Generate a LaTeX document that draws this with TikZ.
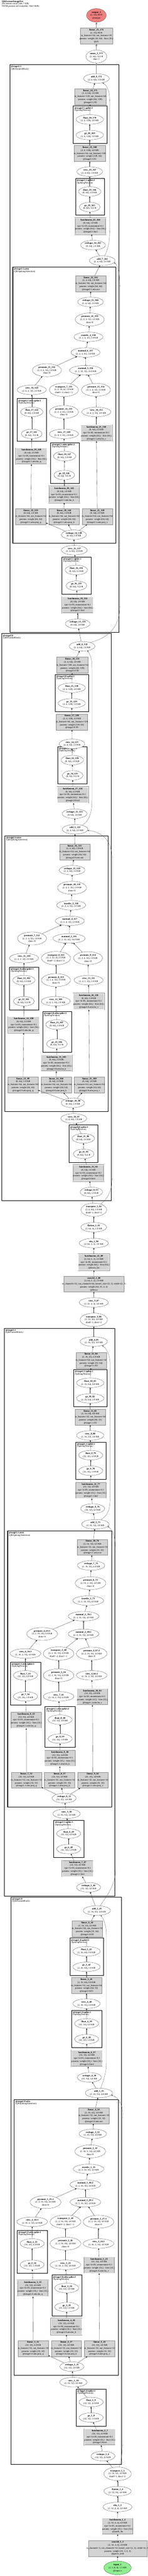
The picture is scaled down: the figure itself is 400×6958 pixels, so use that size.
\documentclass[tikz,border=0pt]{standalone}
\usepackage{fontspec}
\setmainfont{Liberation Serif}
\usetikzlibrary{arrows,shapes.geometric}

\definecolor{modgray}{HTML}{D3D3D3}
\definecolor{outred}{HTML}{F08080}
\definecolor{ingreen}{HTML}{90EE90}

\newcommand{\modtxt}[1]{\makebox[0pt]{\begin{tabular}{@{}c@{}}#1\end{tabular}}}

\begin{document}
\begin{tikzpicture}[x=1pt,y=-1pt,>=stealth',node distance=90pt,
  every node/.style={font=\fontsize{6.4}{8}\selectfont},
  op/.style={ellipse,draw=black!80,line width=0.4pt,fill=white,align=center,inner xsep=2pt,inner ysep=2.2pt},
  mod/.style={rectangle,draw=black!45,line width=0.5pt,fill=modgray,minimum width=82pt,minimum height=43pt,inner sep=0pt},
  ffmod/.style={mod,minimum width=85pt},
  norm/.style={mod,double=white,double distance=1.2pt,minimum width=84pt,minimum height=44pt},
  block/.style={draw=black,line width=1.6pt,inner sep=0pt,anchor=north west},
  spike/.style={block,line width=1.3pt},
  clabel/.style={anchor=north west,align=left,inner sep=3.5pt,font=\fontsize{6.4}{6}\selectfont},
  flow/.style={->,draw=black!80,line width=0.45pt},
  trunk/.style={->,draw=black!45,line width=1.1pt},
  resid/.style={->,draw=black!65,line width=0.45pt},
  elabel/.style={font=\fontsize{4}{4}\selectfont,inner sep=0.4pt}]

\useasboundingbox (0,0) rectangle (400,6958);

\node[block,minimum width=295pt,minimum height=1533pt,label={[clabel]north west:{\textbf{@stage2.1}\\(QKFormerBlock)}}] (stage21) at (26,174) {};
\node[spike,minimum width=91pt,minimum height=101.5pt,label={[clabel]north west:{\textbf{@stage2.1.spike:3}\\(SpikingNeuron)}}] (stage21_spike3) at (198,285.5) {};
\node[spike,minimum width=79pt,minimum height=99pt,label={[clabel]north west:{\textbf{@stage2.1.spike:2}\\(SpikingNeuron)}}] (stage21_spike2) at (204,481.5) {};
\node[block,minimum width=279pt,minimum height=746pt,label={[clabel]north west:{\textbf{@stage2.1.attn}\\(QKSpikingAttention)}}] (stage21_attn) at (34,721) {};
\node[spike,minimum width=79pt,minimum height=115.5pt,label={[clabel]north west:{\textbf{@stage2.1.attn.spike:1}\\(SpikingNeuron)}}] (stage21_attn_spike1) at (46,1076) {};
\node[spike,minimum width=77.6pt,minimum height=111pt,label={[clabel]north west:{\textbf{@stage2.1.attn.spike:2}\\(SpikingNeuron)}}] (stage21_attn_spike2) at (136.7,1195) {};
\node[spike,minimum width=78.7pt,minimum height=100.7pt,label={[clabel]north west:{\textbf{@stage2.1.spike:1}\\(SpikingNeuron)}}] (stage21_spike1) at (167.3,1503.7) {};

\node[block,minimum width=295.7pt,minimum height=1532pt,label={[clabel]north west:{\textbf{@stage2.0}\\(QKFormerBlock)}}] (stage20) at (4.3,1710.7) {};
\node[spike,minimum width=91pt,minimum height=101pt,label={[clabel]north west:{\textbf{@stage2.0.spike:3}\\(SpikingNeuron)}}] (stage20_spike3) at (148.7,1821) {};
\node[spike,minimum width=78.7pt,minimum height=101pt,label={[clabel]north west:{\textbf{@stage2.0.spike:2}\\(SpikingNeuron)}}] (stage20_spike2) at (156,2016) {};
\node[block,minimum width=278.7pt,minimum height=744pt,label={[clabel]north west:{\textbf{@stage2.0.attn}\\(QKSpikingAttention)}}] (stage20_attn) at (13,2257) {};
\node[spike,minimum width=78pt,minimum height=115.5pt,label={[clabel]north west:{\textbf{@stage2.0.attn.spike:1}\\(SpikingNeuron)}}] (stage20_attn_spike1) at (25.7,2611.5) {};
\node[spike,minimum width=78.7pt,minimum height=110.9pt,label={[clabel]north west:{\textbf{@stage2.0.attn.spike:2}\\(SpikingNeuron)}}] (stage20_attn_spike2) at (115,2731) {};
\node[spike,minimum width=78.7pt,minimum height=100.8pt,label={[clabel]north west:{\textbf{@stage2.0.spike:1}\\(SpikingNeuron)}}] (stage20_spike1) at (186.3,3038.5) {};

\node[block,minimum width=298.4pt,minimum height=1533pt,label={[clabel]north west:{\textbf{@stage1.1}\\(QKFormerBlock)}}] (stage11) at (11.3,3587.4) {};
\node[spike,minimum width=90.7pt,minimum height=100.4pt,label={[clabel]north west:{\textbf{@stage1.1.spike:3}\\(SpikingNeuron)}}] (stage11_spike3) at (199,3698.9) {};
\node[spike,minimum width=81.6pt,minimum height=100.4pt,label={[clabel]north west:{\textbf{@stage1.1.spike:2}\\(SpikingNeuron)}}] (stage11_spike2) at (204.7,3894.4) {};
\node[block,minimum width=281.7pt,minimum height=745.6pt,label={[clabel]north west:{\textbf{@stage1.1.attn}\\(QKSpikingAttention)}}] (stage11_attn) at (20,4134.4) {};
\node[spike,minimum width=82pt,minimum height=115.9pt,label={[clabel]north west:{\textbf{@stage1.1.attn.spike:1}\\(SpikingNeuron)}}] (stage11_attn_spike1) at (27.7,4488.9) {};
\node[spike,minimum width=81.6pt,minimum height=109.6pt,label={[clabel]north west:{\textbf{@stage1.1.attn.spike:2}\\(SpikingNeuron)}}] (stage11_attn_spike2) at (121.7,4609.3) {};
\node[spike,minimum width=82pt,minimum height=100.7pt,label={[clabel]north west:{\textbf{@stage1.1.spike:1}\\(SpikingNeuron)}}] (stage11_spike1) at (145.3,4916.3) {};

\node[block,minimum width=299pt,minimum height=1532.7pt,label={[clabel]north west:{\textbf{@stage1.0}\\(QKFormerBlock)}}] (stage10) at (29.3,5123.3) {};
\node[spike,minimum width=90.6pt,minimum height=100.8pt,label={[clabel]north west:{\textbf{@stage1.0.spike:3}\\(SpikingNeuron)}}] (stage10_spike3) at (188.7,5234) {};
\node[spike,minimum width=82pt,minimum height=101.1pt,label={[clabel]north west:{\textbf{@stage1.0.spike:2}\\(SpikingNeuron)}}] (stage10_spike2) at (193.7,5429.3) {};
\node[block,minimum width=282pt,minimum height=744.8pt,label={[clabel]north west:{\textbf{@stage1.0.attn}\\(QKSpikingAttention)}}] (stage10_attn) at (37.7,5670.4) {};
\node[spike,minimum width=81.7pt,minimum height=116.3pt,label={[clabel]north west:{\textbf{@stage1.0.attn.spike:1}\\(SpikingNeuron)}}] (stage10_attn_spike1) at (46,6023.7) {};
\node[spike,minimum width=81.7pt,minimum height=110.4pt,label={[clabel]north west:{\textbf{@stage1.0.attn.spike:2}\\(SpikingNeuron)}}] (stage10_attn_spike2) at (140,6144.4) {};
\node[spike,minimum width=81.6pt,minimum height=100.8pt,label={[clabel]north west:{\textbf{@stage1.0.spike:1}\\(SpikingNeuron)}}] (stage10_spike1) at (205.7,6452.2) {};

\node[anchor=north west,align=left,inner sep=0pt,font=\fontsize{6.4}{6}\selectfont] (title) at (5,2) {\textbf{QKFormerImageNet}\\264 tensors total (546.7 KB)\\93258 params (all trainable, 364.3 KB)};

\node[op,fill=outred,minimum width=53pt] (output_1) at (261,41.5) {\textbf{output\_1}\\(2, 10), 80 B\\@output};
\node[mod,minimum width=88pt] (linear_25_174) at (261,97) {\modtxt{\textbf{linear\_25\_174}\\(2, 10), 80 B\\in\_features=64, out\_features=10\\params: weight (10, 64) · bias (10,)\\@cls}};
\node[op] (mean_1_173) at (261,152.6) {\textbf{mean\_1\_173}\\(2, 64), 512 B\\dim=1};

\node[op] (add_8_172) at (261,212) {\textbf{add\_8\_172}\\(2, 4, 64), 2.0 KB};
\node[ffmod] (linear_24_171) at (244.5,261) {\modtxt{\textbf{linear\_24\_171}\\(2, 4, 64), 2.0 KB\\in\_features=128, out\_features=64\\params: weight (64, 128)\\@stage2.1.ff2}};
\node[op] (float_20_170) at (243,322.6) {\textbf{float\_20\_170}\\(2, 4, 128), 4.0 KB};
\node[op] (ge_20_169) at (243,364.8) {\textbf{ge\_20\_169}\\(2, 4, 128), 1.0 KB};
\node[ffmod] (linear_23_168) at (243,414.7) {\modtxt{\textbf{linear\_23\_168}\\(2, 4, 128), 4.0 KB\\in\_features=64, out\_features=128\\params: weight (128, 64)\\@stage2.1.ff1}};
\node[op] (view_19_167) at (243,463.7) {\textbf{view\_19\_167}\\(2, 4, 64), 2.0 KB};
\node[op] (float_19_166) at (243,517.4) {\textbf{float\_19\_166}\\(8, 64), 2.0 KB};
\node[op] (ge_19_165) at (243,559.3) {\textbf{ge\_19\_165}\\(8, 64), 512 B};
\node[norm] (batchnorm_22_164) at (245,611) {\modtxt{\textbf{batchnorm\_22\_164}\\(8, 64), 2.0 KB\\eps=1e-05, momentum=0.1\\params: weight (64,) · bias (64,)\\@stage2.1.bn2}};
\node[op] (reshape_16_163) at (252,662) {\textbf{reshape\_16\_163}\\(8, 64), 2.0 KB};
\node[op] (add_7_162) at (277,704) {\textbf{add\_7\_162}\\(2, 4, 64), 2.0 KB};
\node[mod] (linear_22_161) at (246,766) {\modtxt{\textbf{linear\_22\_161}\\(2, 4, 64), 2.0 KB\\in\_features=64, out\_features=64\\params: weight (64, 64)\\@stage2.1.attn.out}};
\node[op] (reshape_15_160) at (245,815.5) {\textbf{reshape\_15\_160}\\(2, 4, 64), 2.0 KB};
\node[op] (permute_14_159) at (243,863) {\textbf{permute\_14\_159}\\(2, 4, 2, 32), 2.0 KB\\dims=0};
\node[op] (truediv_4_158) at (239.5,910) {\textbf{truediv\_4\_158}\\(2, 2, 4, 32), 2.0 KB};
\node[op] (matmul_6_157) at (231.5,952) {\textbf{matmul\_6\_157}\\(2, 2, 4, 32), 2.0 KB};
\node[op] (permute_11_152) at (127,1000) {\textbf{permute\_11\_152}\\(2, 2, 4, 32), 2.0 KB\\dims=0};
\node[op] (matmul_5_156) at (232,1000) {\textbf{matmul\_5\_156}\\(2, 2, 32, 32), 16.0 KB};
\node[op] (view_16_143) at (86,1053) {\textbf{view\_16\_143}\\(2, 4, 2, 32), 2.0 KB};
\node[op] (transpose_7_155) at (173,1053) {\textbf{transpose\_7\_155}\\(2, 2, 32, 4), 2.0 KB\\dim0=-2, dim1=-1};
\node[op] (permute_13_154) at (260,1053) {\textbf{permute\_13\_154}\\(2, 2, 4, 32), 2.0 KB\\dims=0};
\node[op] (float_17_142) at (86,1112.6) {\textbf{float\_17\_142}\\(8, 64), 2.0 KB};
\node[op] (permute_12_153) at (173,1112.6) {\textbf{permute\_12\_153}\\(2, 2, 4, 32), 2.0 KB\\dims=0};
\node[op] (view_18_151) at (261,1112.6) {\textbf{view\_18\_151}\\(2, 4, 2, 32), 2.0 KB};
\node[op] (ge_17_141) at (86,1172) {\textbf{ge\_17\_141}\\(8, 64), 512 B};
\node[op] (view_17_148) at (173,1172) {\textbf{view\_17\_148}\\(2, 4, 2, 32), 2.0 KB};
\node[norm] (batchnorm_21_150) at (261,1169.5) {\modtxt{\textbf{batchnorm\_21\_150}\\(8, 64), 2.0 KB\\eps=1e-05, momentum=0.1\\params: weight (64,) · bias (64,)\\@stage2.1.attn.bn\_v}};
\node[norm] (batchnorm_19_140) at (85.3,1232) {\modtxt{\textbf{batchnorm\_19\_140}\\(8, 64), 2.0 KB\\eps=1e-05, momentum=0.1\\params: weight (64,) · bias (64,)\\@stage2.1.attn.bn\_q}};
\node[op] (float_18_147) at (175,1232) {\textbf{float\_18\_147}\\(8, 64), 2.0 KB};
\node[op] (ge_18_146) at (174,1283) {\textbf{ge\_18\_146}\\(8, 64), 512 B};
\node[norm] (batchnorm_20_145) at (174,1336) {\modtxt{\textbf{batchnorm\_20\_145}\\(8, 64), 2.0 KB\\eps=1e-05, momentum=0.1\\params: weight (64,) · bias (64,)\\@stage2.1.attn.bn\_k}};
\node[mod] (linear_19_139) at (83.5,1395) {\modtxt{\textbf{linear\_19\_139}\\(8, 64), 2.0 KB\\in\_features=64, out\_features=64\\params: weight (64, 64)\\@stage2.1.attn.proj\_q}};
\node[mod] (linear_20_144) [right of=linear_19_139] {\modtxt{\textbf{linear\_20\_144}\\(8, 64), 2.0 KB\\in\_features=64, out\_features=64\\params: weight (64, 64)\\@stage2.1.attn.proj\_k}};
\node[mod] (linear_21_149) [right of=linear_20_144] {\modtxt{\textbf{linear\_21\_149}\\(8, 64), 2.0 KB\\in\_features=64, out\_features=64\\params: weight (64, 64)\\@stage2.1.attn.proj\_v}};
\node[op] (reshape_14_138) at (200,1444.4) {\textbf{reshape\_14\_138}\\(8, 64), 2.0 KB};
\node[op] (view_15_137) at (201.3,1486) {\textbf{view\_15\_137}\\(2, 4, 64), 2.0 KB};
\node[op] (float_16_136) at (206.7,1539.6) {\textbf{float\_16\_136}\\(8, 64), 2.0 KB};
\node[op] (ge_16_135) at (207,1582) {\textbf{ge\_16\_135}\\(8, 64), 512 B};
\node[norm] (batchnorm_18_134) at (210.3,1634) {\modtxt{\textbf{batchnorm\_18\_134}\\(8, 64), 2.0 KB\\eps=1e-05, momentum=0.1\\params: weight (64,) · bias (64,)\\@stage2.1.bn1}};
\node[op] (reshape_13_133) at (210.3,1684.8) {\textbf{reshape\_13\_133}\\(8, 64), 2.0 KB};

\node[op] (add_6_132) at (222.3,1745.6) {\textbf{add\_6\_132}\\(2, 4, 64), 2.0 KB};
\node[ffmod] (linear_18_131) at (196,1796.7) {\modtxt{\textbf{linear\_18\_131}\\(2, 4, 64), 2.0 KB\\in\_features=128, out\_features=64\\params: weight (64, 128)\\@stage2.0.ff2}};
\node[op] (float_15_130) at (194.3,1857.8) {\textbf{float\_15\_130}\\(2, 4, 128), 4.0 KB};
\node[op] (ge_15_129) at (194.3,1899.6) {\textbf{ge\_15\_129}\\(2, 4, 128), 1.0 KB};
\node[ffmod] (linear_17_128) at (194.8,1950) {\modtxt{\textbf{linear\_17\_128}\\(2, 4, 128), 4.0 KB\\in\_features=64, out\_features=128\\params: weight (128, 64)\\@stage2.0.ff1}};
\node[op] (view_14_127) at (195,2009.3) {\textbf{view\_14\_127}\\(2, 4, 64), 2.0 KB};
\node[op] (float_14_126) at (195.7,2053) {\textbf{float\_14\_126}\\(8, 64), 2.0 KB};
\node[op] (ge_14_125) at (196.7,2094.4) {\textbf{ge\_14\_125}\\(8, 64), 512 B};
\node[norm] (batchnorm_17_124) at (197,2147) {\modtxt{\textbf{batchnorm\_17\_124}\\(8, 64), 2.0 KB\\eps=1e-05, momentum=0.1\\params: weight (64,) · bias (64,)\\@stage2.0.bn2}};
\node[op] (reshape_12_123) at (202,2197.8) {\textbf{reshape\_12\_123}\\(8, 64), 2.0 KB};
\node[op] (add_5_122) at (203.3,2240) {\textbf{add\_5\_122}\\(2, 4, 64), 2.0 KB};
\node[mod] (linear_16_121) at (202.3,2301) {\modtxt{\textbf{linear\_16\_121}\\(2, 4, 64), 2.0 KB\\in\_features=64, out\_features=64\\params: weight (64, 64)\\@stage2.0.attn.out}};
\node[op] (reshape_11_120) at (195.3,2350.4) {\textbf{reshape\_11\_120}\\(2, 4, 64), 2.0 KB};
\node[op] (permute_10_119) at (195,2398) {\textbf{permute\_10\_119}\\(2, 4, 2, 32), 2.0 KB\\dims=0};
\node[op] (truediv_3_118) at (192.7,2445) {\textbf{truediv\_3\_118}\\(2, 2, 4, 32), 2.0 KB};
\node[op] (matmul_4_117) at (189,2487.4) {\textbf{matmul\_4\_117}\\(2, 2, 4, 32), 2.0 KB};
\node[op] (permute_7_112) at (86.7,2534.8) {\textbf{permute\_7\_112}\\(2, 2, 4, 32), 2.0 KB\\dims=0};
\node[op] (matmul_3_116) at (187,2534.8) {\textbf{matmul\_3\_116}\\(2, 2, 32, 32), 16.0 KB};
\node[op] (view_11_103) at (65,2588) {\textbf{view\_11\_103}\\(2, 4, 2, 32), 2.0 KB};
\node[op] (transpose_6_115) at (151.7,2588) {\textbf{transpose\_6\_115}\\(2, 2, 32, 4), 2.0 KB\\dim0=-2, dim1=-1};
\node[op] (permute_9_114) at (238.3,2588) {\textbf{permute\_9\_114}\\(2, 2, 4, 32), 2.0 KB\\dims=0};
\node[op] (float_12_102) at (64.7,2647.4) {\textbf{float\_12\_102}\\(8, 64), 2.0 KB};
\node[op] (permute_8_113) at (151.7,2647.4) {\textbf{permute\_8\_113}\\(2, 2, 4, 32), 2.0 KB\\dims=0};
\node[op] (view_13_111) at (239.7,2647.4) {\textbf{view\_13\_111}\\(2, 4, 2, 32), 2.0 KB};
\node[op] (ge_12_101) at (64.7,2704.4) {\textbf{ge\_12\_101}\\(8, 64), 512 B};
\node[op] (view_12_108) at (151,2704.4) {\textbf{view\_12\_108}\\(2, 4, 2, 32), 2.0 KB};
\node[norm] (batchnorm_16_110) at (240.3,2705) {\modtxt{\textbf{batchnorm\_16\_110}\\(8, 64), 2.0 KB\\eps=1e-05, momentum=0.1\\params: weight (64,) · bias (64,)\\@stage2.0.attn.bn\_v}};
\node[norm] (batchnorm_14_100) at (64.3,2768) {\modtxt{\textbf{batchnorm\_14\_100}\\(8, 64), 2.0 KB\\eps=1e-05, momentum=0.1\\params: weight (64,) · bias (64,)\\@stage2.0.attn.bn\_q}};
\node[op] (float_13_107) at (154,2767.4) {\textbf{float\_13\_107}\\(8, 64), 2.0 KB};
\node[op] (ge_13_106) at (154,2819.3) {\textbf{ge\_13\_106}\\(8, 64), 512 B};
\node[norm] (batchnorm_15_105) at (152.7,2871.5) {\modtxt{\textbf{batchnorm\_15\_105}\\(8, 64), 2.0 KB\\eps=1e-05, momentum=0.1\\params: weight (64,) · bias (64,)\\@stage2.0.attn.bn\_k}};
\node[mod] (linear_13_99) at (62.3,2929.8) {\modtxt{\textbf{linear\_13\_99}\\(8, 64), 2.0 KB\\in\_features=64, out\_features=64\\params: weight (64, 64)\\@stage2.0.attn.proj\_q}};
\node[mod] (linear_14_104) [right of=linear_13_99] {\modtxt{\textbf{linear\_14\_104}\\(8, 64), 2.0 KB\\in\_features=64, out\_features=64\\params: weight (64, 64)\\@stage2.0.attn.proj\_k}};
\node[mod] (linear_15_109) [right of=linear_14_104] {\modtxt{\textbf{linear\_15\_109}\\(8, 64), 2.0 KB\\in\_features=64, out\_features=64\\params: weight (64, 64)\\@stage2.0.attn.proj\_v}};
\node[op] (reshape_10_98) at (197.3,2979) {\textbf{reshape\_10\_98}\\(8, 64), 2.0 KB};
\node[op] (view_10_97) at (199.7,3021) {\textbf{view\_10\_97}\\(2, 4, 64), 2.0 KB};
\node[op] (float_11_96) at (225.7,3074.8) {\textbf{float\_11\_96}\\(8, 64), 2.0 KB};
\node[op] (ge_11_95) at (226.7,3116.7) {\textbf{ge\_11\_95}\\(8, 64), 512 B};
\node[norm] (batchnorm_13_94) at (239.5,3168.7) {\modtxt{\textbf{batchnorm\_13\_94}\\(8, 64), 2.0 KB\\eps=1e-05, momentum=0.1\\params: weight (64,) · bias (64,)\\@stage2.0.bn1}};
\node[op] (reshape_9_93) at (247.3,3219.6) {\textbf{reshape\_9\_93}\\(8, 64), 2.0 KB};

\node[op] (transpose_5_92) at (254,3267.8) {\textbf{transpose\_5\_92}\\(2, 4, 64), 2.0 KB\\dim0=1, dim1=2};
\node[op] (flatten_2_91) at (254,3314.8) {\textbf{flatten\_2\_91}\\(2, 64, 4), 2.0 KB};
\node[op] (silu_2_90) at (254,3357.8) {\textbf{silu\_2\_90}\\(2, 64, 2, 2), 2.0 KB};
\node[norm] (batchnorm_12_89) at (254.2,3409.3) {\modtxt{\textbf{batchnorm\_12\_89}\\(2, 64, 2, 2), 2.0 KB\\eps=1e-05, momentum=0.1\\params: weight (64,) · bias (64,)\\@down\_bn}};
\node[mod,minimum width=162pt,minimum height=42pt] (conv2d_2_88) at (254.3,3468.4) {\modtxt{\textbf{conv2d\_2\_88}\\(2, 64, 2, 2), 2.0 KB\\in\_channels=32, out\_channels=64, kernel\_size=(2, 2), stride=(2, 2)\\params: weight (64, 32, 2, 2)\\@down}};
\node[op] (view_9_87) at (254,3518) {\textbf{view\_9\_87}\\(2, 32, 4, 4), 4.0 KB};
\node[op] (transpose_4_86) at (254,3564.8) {\textbf{transpose\_4\_86}\\(2, 32, 16), 4.0 KB\\dim0=1, dim1=2};

\node[op] (add_4_85) at (254,3623.7) {\textbf{add\_4\_85}\\(2, 16, 32), 4.0 KB};
\node[mod] (linear_12_84) at (246.7,3674.1) {\modtxt{\textbf{linear\_12\_84}\\(2, 16, 32), 4.0 KB\\in\_features=64, out\_features=32\\params: weight (32, 64)\\@stage1.1.ff2}};
\node[op] (float_10_83) at (244.3,3735.2) {\textbf{float\_10\_83}\\(2, 16, 64), 8.0 KB};
\node[op] (ge_10_82) at (244.3,3777) {\textbf{ge\_10\_82}\\(2, 16, 64), 2.0 KB};
\node[mod] (linear_11_81) at (244.5,3827.6) {\modtxt{\textbf{linear\_11\_81}\\(2, 16, 64), 8.0 KB\\in\_features=32, out\_features=64\\params: weight (64, 32)\\@stage1.1.ff1}};
\node[op] (view_8_80) at (244.3,3877) {\textbf{view\_8\_80}\\(2, 16, 32), 4.0 KB};
\node[op] (float_9_79) at (245.7,3930.4) {\textbf{float\_9\_79}\\(32, 32), 4.0 KB};
\node[op] (ge_9_78) at (245.7,3972.6) {\textbf{ge\_9\_78}\\(32, 32), 1.0 KB};
\node[norm] (batchnorm_11_77) at (246.2,4025.2) {\modtxt{\textbf{batchnorm\_11\_77}\\(32, 32), 4.0 KB\\eps=1e-05, momentum=0.1\\params: weight (32,) · bias (32,)\\@stage1.1.bn2}};
\node[op] (reshape_8_76) at (251,4074.8) {\textbf{reshape\_8\_76}\\(32, 32), 4.0 KB};
\node[op] (add_3_75) at (258.3,4117) {\textbf{add\_3\_75}\\(2, 16, 32), 4.0 KB};
\node[mod] (linear_10_74) at (250.3,4179.2) {\modtxt{\textbf{linear\_10\_74}\\(2, 16, 32), 4.0 KB\\in\_features=32, out\_features=32\\params: weight (32, 32)\\@stage1.1.attn.out}};
\node[op] (reshape_7_73) at (246.7,4228.5) {\textbf{reshape\_7\_73}\\(2, 16, 32), 4.0 KB};
\node[op] (permute_6_72) at (245.3,4276.3) {\textbf{permute\_6\_72}\\(2, 16, 2, 16), 4.0 KB\\dims=0};
\node[op] (truediv_2_71) at (239,4323.3) {\textbf{truediv\_2\_71}\\(2, 2, 16, 16), 4.0 KB};
\node[op] (matmul_2_70) at (226.3,4365.6) {\textbf{matmul\_2\_70:2}\\(2, 2, 16, 16), 4.0 KB};
\node[op] (permute_4_65) at (114,4413.3) {\textbf{permute\_4\_65:1}\\(2, 2, 16, 16), 4.0 KB\\dims=0};
\node[op] (matmul_2_69) at (226.3,4413.3) {\textbf{matmul\_2\_69:1}\\(2, 2, 16, 16), 4.0 KB};
\node[op] (view_6_56) at (69,4466.3) {\textbf{view\_6\_56:1}\\(2, 16, 2, 16), 4.0 KB};
\node[op] (transpose_3_68) at (158.7,4466.3) {\textbf{transpose\_3\_68}\\(2, 2, 16, 16), 4.0 KB\\dim0=-2, dim1=-1};
\node[op] (permute_4_67) at (248.3,4466.3) {\textbf{permute\_4\_67:2}\\(2, 2, 16, 16), 4.0 KB\\dims=0};
\node[op] (float_7_55) at (69,4525.2) {\textbf{float\_7\_55}\\(32, 32), 4.0 KB};
\node[op] (permute_5_66) at (158.7,4525.2) {\textbf{permute\_5\_66}\\(2, 2, 16, 16), 4.0 KB\\dims=0};
\node[op] (view_4_64) at (248.3,4525.2) {\textbf{view\_4\_64:2}\\(2, 16, 2, 16), 4.0 KB};
\node[op] (ge_7_54) at (69,4582.2) {\textbf{ge\_7\_54}\\(32, 32), 1.0 KB};
\node[op] (view_7_61) at (158.7,4582.2) {\textbf{view\_7\_61}\\(2, 16, 2, 16), 4.0 KB};
\node[norm] (batchnorm_10_63) at (250.2,4583.1) {\modtxt{\textbf{batchnorm\_10\_63}\\(32, 32), 4.0 KB\\eps=1e-05, momentum=0.1\\params: weight (32,) · bias (32,)\\@stage1.1.attn.bn\_v}};
\node[norm] (batchnorm_8_53) at (71,4646) {\modtxt{\textbf{batchnorm\_8\_53}\\(32, 32), 4.0 KB\\eps=1e-05, momentum=0.1\\params: weight (32,) · bias (32,)\\@stage1.1.attn.bn\_q}};
\node[op] (float_8_60) at (162.7,4645) {\textbf{float\_8\_60}\\(32, 32), 4.0 KB};
\node[op] (ge_8_59) at (162.7,4696.3) {\textbf{ge\_8\_59}\\(32, 32), 1.0 KB};
\node[norm] (batchnorm_9_58) at (162.5,4749) {\modtxt{\textbf{batchnorm\_9\_58}\\(32, 32), 4.0 KB\\eps=1e-05, momentum=0.1\\params: weight (32,) · bias (32,)\\@stage1.1.attn.bn\_k}};
\node[mod] (linear_7_52) at (71.5,4808.1) {\modtxt{\textbf{linear\_7\_52}\\(32, 32), 4.0 KB\\in\_features=32, out\_features=32\\params: weight (32, 32)\\@stage1.1.attn.proj\_q}};
\node[mod] (linear_8_57) [right of=linear_7_52] {\modtxt{\textbf{linear\_8\_57}\\(32, 32), 4.0 KB\\in\_features=32, out\_features=32\\params: weight (32, 32)\\@stage1.1.attn.proj\_k}};
\node[mod] (linear_9_62) [right of=linear_8_57] {\modtxt{\textbf{linear\_9\_62}\\(32, 32), 4.0 KB\\in\_features=32, out\_features=32\\params: weight (32, 32)\\@stage1.1.attn.proj\_v}};
\node[op] (reshape_6_51) at (173.7,4857) {\textbf{reshape\_6\_51}\\(32, 32), 4.0 KB};
\node[op] (view_5_50) at (180.3,4898.9) {\textbf{view\_5\_50}\\(2, 16, 32), 4.0 KB};
\node[op] (float_6_49) at (186,4952.6) {\textbf{float\_6\_49}\\(32, 32), 4.0 KB};
\node[op] (ge_6_48) at (186,4994.4) {\textbf{ge\_6\_48}\\(32, 32), 1.0 KB};
\node[norm] (batchnorm_7_47) at (210.3,5046.7) {\modtxt{\textbf{batchnorm\_7\_47}\\(32, 32), 4.0 KB\\eps=1e-05, momentum=0.1\\params: weight (32,) · bias (32,)\\@stage1.1.bn1}};
\node[op] (reshape_5_46) at (239.7,5097.8) {\textbf{reshape\_5\_46}\\(32, 32), 4.0 KB};

\node[op] (add_2_45) at (262.3,5160.4) {\textbf{add\_2\_45}\\(2, 16, 32), 4.0 KB};
\node[mod] (linear_6_44) at (236.3,5209.7) {\modtxt{\textbf{linear\_6\_44}\\(2, 16, 32), 4.0 KB\\in\_features=64, out\_features=32\\params: weight (32, 64)\\@stage1.0.ff2}};
\node[op] (float_5_43) at (234.3,5270.7) {\textbf{float\_5\_43}\\(2, 16, 64), 8.0 KB};
\node[op] (ge_5_42) at (234.3,5312.6) {\textbf{ge\_5\_42}\\(2, 16, 64), 2.0 KB};
\node[mod] (linear_5_41) at (234.3,5363) {\modtxt{\textbf{linear\_5\_41}\\(2, 16, 64), 8.0 KB\\in\_features=32, out\_features=64\\params: weight (64, 32)\\@stage1.0.ff1}};
\node[op] (view_4_40) at (234.3,5411.9) {\textbf{view\_4\_40}\\(2, 16, 32), 4.0 KB};
\node[op] (float_4_39) at (234.7,5465.6) {\textbf{float\_4\_39}\\(32, 32), 4.0 KB};
\node[op] (ge_4_38) at (234.7,5507.8) {\textbf{ge\_4\_38}\\(32, 32), 1.0 KB};
\node[norm] (batchnorm_6_37) at (235.5,5560) {\modtxt{\textbf{batchnorm\_6\_37}\\(32, 32), 4.0 KB\\eps=1e-05, momentum=0.1\\params: weight (32,) · bias (32,)\\@stage1.0.bn2}};
\node[op] (reshape_4_36) at (242,5611.1) {\textbf{reshape\_4\_36}\\(32, 32), 4.0 KB};
\node[op] (add_1_35) at (268,5653.3) {\textbf{add\_1\_35}\\(2, 16, 32), 4.0 KB};
\node[mod] (linear_4_34) at (254,5714.7) {\modtxt{\textbf{linear\_4\_34}\\(2, 16, 32), 4.0 KB\\in\_features=32, out\_features=32\\params: weight (32, 32)\\@stage1.0.attn.out}};
\node[op] (reshape_3_33) at (251.3,5763.7) {\textbf{reshape\_3\_33}\\(2, 16, 32), 4.0 KB};
\node[op] (permute_3_32) at (244.3,5811.1) {\textbf{permute\_3\_32}\\(2, 16, 2, 16), 4.0 KB\\dims=0};
\node[op] (truediv_1_31) at (240,5858.5) {\textbf{truediv\_1\_31}\\(2, 2, 16, 16), 4.0 KB};
\node[op] (matmul_1_30) at (231.3,5900.7) {\textbf{matmul\_1\_30:2}\\(2, 2, 16, 16), 4.0 KB};
\node[op] (permute_1_25) at (123.3,5948.1) {\textbf{permute\_1\_25:1}\\(2, 2, 16, 16), 4.0 KB\\dims=0};
\node[op] (matmul_1_29) at (231.3,5948.1) {\textbf{matmul\_1\_29:1}\\(2, 2, 16, 16), 4.0 KB};
\node[op] (view_2_16) at (87.3,6001.1) {\textbf{view\_2\_16:1}\\(2, 16, 2, 16), 4.0 KB};
\node[op] (transpose_2_28) at (177.3,6001.1) {\textbf{transpose\_2\_28}\\(2, 2, 16, 16), 4.0 KB\\dim0=-2, dim1=-1};
\node[op] (permute_1_27) at (266.7,6001.1) {\textbf{permute\_1\_27:2}\\(2, 2, 16, 16), 4.0 KB\\dims=0};
\node[op] (float_2_15) at (87,6060) {\textbf{float\_2\_15}\\(32, 32), 4.0 KB};
\node[op] (permute_2_26) at (177.3,6060) {\textbf{permute\_2\_26}\\(2, 2, 16, 16), 4.0 KB\\dims=0};
\node[op] (view_2_24) at (266.7,6060) {\textbf{view\_2\_24:2}\\(2, 16, 2, 16), 4.0 KB};
\node[op] (ge_2_14) at (87,6117.4) {\textbf{ge\_2\_14}\\(32, 32), 1.0 KB};
\node[op] (view_3_21) at (177.3,6117.4) {\textbf{view\_3\_21}\\(2, 16, 2, 16), 4.0 KB};
\node[norm] (batchnorm_5_23) at (268.5,6118.1) {\modtxt{\textbf{batchnorm\_5\_23}\\(32, 32), 4.0 KB\\eps=1e-05, momentum=0.1\\params: weight (32,) · bias (32,)\\@stage1.0.attn.bn\_v}};
\node[norm] (batchnorm_3_13) at (89.2,6181.1) {\modtxt{\textbf{batchnorm\_3\_13}\\(32, 32), 4.0 KB\\eps=1e-05, momentum=0.1\\params: weight (32,) · bias (32,)\\@stage1.0.attn.bn\_q}};
\node[op] (float_3_20) at (180.7,6180) {\textbf{float\_3\_20}\\(32, 32), 4.0 KB};
\node[op] (ge_3_19) at (180.7,6231.5) {\textbf{ge\_3\_19}\\(32, 32), 1.0 KB};
\node[norm] (batchnorm_4_18) at (180,6284.3) {\modtxt{\textbf{batchnorm\_4\_18}\\(32, 32), 4.0 KB\\eps=1e-05, momentum=0.1\\params: weight (32,) · bias (32,)\\@stage1.0.attn.bn\_k}};
\node[mod] (linear_1_12) at (89.8,6343.3) {\modtxt{\textbf{linear\_1\_12}\\(32, 32), 4.0 KB\\in\_features=32, out\_features=32\\params: weight (32, 32)\\@stage1.0.attn.proj\_q}};
\node[mod] (linear_2_17) [right of=linear_1_12] {\modtxt{\textbf{linear\_2\_17}\\(32, 32), 4.0 KB\\in\_features=32, out\_features=32\\params: weight (32, 32)\\@stage1.0.attn.proj\_k}};
\node[mod] (linear_3_22) [right of=linear_2_17] {\modtxt{\textbf{linear\_3\_22}\\(32, 32), 4.0 KB\\in\_features=32, out\_features=32\\params: weight (32, 32)\\@stage1.0.attn.proj\_v}};
\node[op] (reshape_2_11) at (194.7,6392.2) {\textbf{reshape\_2\_11}\\(32, 32), 4.0 KB};
\node[op] (view_1_10) at (198.7,6434.4) {\textbf{view\_1\_10}\\(2, 16, 32), 4.0 KB};
\node[op] (float_1_9) at (246.7,6488.1) {\textbf{float\_1\_9}\\(32, 32), 4.0 KB};
\node[op] (ge_1_8) at (246.7,6530) {\textbf{ge\_1\_8}\\(32, 32), 1.0 KB};
\node[norm] (batchnorm_2_7) at (270.5,6582.6) {\modtxt{\textbf{batchnorm\_2\_7}\\(32, 32), 4.0 KB\\eps=1e-05, momentum=0.1\\params: weight (32,) · bias (32,)\\@stage1.0.bn1}};
\node[op] (reshape_1_6) at (278.7,6634.1) {\textbf{reshape\_1\_6}\\(32, 32), 4.0 KB};

\node[op] (transpose_1_5) at (318.3,6681.9) {\textbf{transpose\_1\_5}\\(2, 16, 32), 4.0 KB\\dim0=1, dim1=2};
\node[op] (flatten_1_4) at (318.3,6728.9) {\textbf{flatten\_1\_4}\\(2, 32, 16), 4.0 KB};
\node[op] (silu_1_3) at (318.3,6771.5) {\textbf{silu\_1\_3}\\(2, 32, 4, 4), 4.0 KB};
\node[norm] (batchnorm_1_2) at (318.5,6823.3) {\modtxt{\textbf{batchnorm\_1\_2}\\(2, 32, 4, 4), 4.0 KB\\eps=1e-05, momentum=0.1\\params: weight (32,) · bias (32,)\\@patch\_bn}};
\node[mod,minimum width=159pt] (conv2d_1_1) at (318.7,6883.1) {\modtxt{\textbf{conv2d\_1\_1}\\(2, 32, 4, 4), 4.0 KB\\in\_channels=3, out\_channels=32, kernel\_size=(2, 2), stride=(2, 2)\\params: weight (32, 3, 2, 2)\\@patch\_emb}};
\node[op,fill=ingreen] (input_1) at (318.3,6936) {\textbf{input\_1}\\(2, 3, 8, 8), 1.5 KB\\@input.x};

\path[trunk] (linear_25_174) edge (output_1)
  (mean_1_173) edge (linear_25_174)
  (add_8_172) edge (mean_1_173);

\path[flow] (linear_24_171) edge (add_8_172)
  (float_20_170) edge (linear_24_171)
  (ge_20_169) edge (float_20_170)
  (linear_23_168) edge (ge_20_169)
  (view_19_167) edge (linear_23_168)
  (float_19_166) edge (view_19_167)
  (ge_19_165) edge (float_19_166)
  (batchnorm_22_164) edge (ge_19_165)
  (reshape_16_163) edge (batchnorm_22_164)
  (add_7_162) edge (reshape_16_163)
  (linear_22_161) edge (add_7_162)
  (reshape_15_160) edge (linear_22_161)
  (permute_14_159) edge (reshape_15_160)
  (truediv_4_158) edge (permute_14_159)
  (matmul_6_157) edge (truediv_4_158)
  (permute_11_152) edge node[elabel,pos=0.96,below]{self} (matmul_6_157)
  (matmul_5_156) edge node[elabel,pos=0.9,left]{arg} (matmul_6_157)
  (transpose_7_155) edge node[elabel,pos=0.93,left]{self} (matmul_5_156)
  (permute_13_154) edge node[elabel,pos=0.9,left=2pt]{arg} (matmul_5_156)
  (view_16_143) edge (permute_11_152)
  (permute_12_153) edge (transpose_7_155)
  (view_18_151) edge (permute_13_154)
  (float_17_142) edge (view_16_143)
  (view_17_148) edge (permute_12_153)
  (batchnorm_21_150) edge (view_18_151)
  (ge_17_141) edge (float_17_142)
  (float_18_147) edge (view_17_148)
  (batchnorm_19_140) edge (ge_17_141)
  (ge_18_146) edge (float_18_147)
  (batchnorm_20_145) edge (ge_18_146)
  (linear_19_139) edge (batchnorm_19_140)
  (linear_20_144) edge (batchnorm_20_145)
  (linear_21_149) edge (batchnorm_21_150)
  (reshape_14_138) edge (linear_19_139)
  (reshape_14_138) edge (linear_20_144)
  (reshape_14_138) edge (linear_21_149)
  (view_15_137) edge (reshape_14_138)
  (float_16_136) edge (view_15_137)
  (ge_16_135) edge (float_16_136)
  (batchnorm_18_134) edge (ge_16_135)
  (reshape_13_133) edge (batchnorm_18_134)
  (add_6_132) edge (reshape_13_133);

\path[flow] (linear_18_131) edge (add_6_132)
  (float_15_130) edge (linear_18_131)
  (ge_15_129) edge (float_15_130)
  (linear_17_128) edge (ge_15_129)
  (view_14_127) edge (linear_17_128)
  (float_14_126) edge (view_14_127)
  (ge_14_125) edge (float_14_126)
  (batchnorm_17_124) edge (ge_14_125)
  (reshape_12_123) edge (batchnorm_17_124)
  (add_5_122) edge (reshape_12_123)
  (linear_16_121) edge (add_5_122)
  (reshape_11_120) edge (linear_16_121)
  (permute_10_119) edge (reshape_11_120)
  (truediv_3_118) edge (permute_10_119)
  (matmul_4_117) edge (truediv_3_118)
  (permute_7_112) edge node[elabel,pos=0.96,below]{self} (matmul_4_117)
  (matmul_3_116) edge node[elabel,pos=0.9,left]{arg} (matmul_4_117)
  (transpose_6_115) edge node[elabel,pos=0.93,left]{self} (matmul_3_116)
  (permute_9_114) edge node[elabel,pos=0.9,left=2pt]{arg} (matmul_3_116)
  (view_11_103) edge (permute_7_112)
  (permute_8_113) edge (transpose_6_115)
  (view_13_111) edge (permute_9_114)
  (float_12_102) edge (view_11_103)
  (view_12_108) edge (permute_8_113)
  (batchnorm_16_110) edge (view_13_111)
  (ge_12_101) edge (float_12_102)
  (float_13_107) edge (view_12_108)
  (batchnorm_14_100) edge (ge_12_101)
  (ge_13_106) edge (float_13_107)
  (batchnorm_15_105) edge (ge_13_106)
  (linear_13_99) edge (batchnorm_14_100)
  (linear_14_104) edge (batchnorm_15_105)
  (linear_15_109) edge (batchnorm_16_110)
  (reshape_10_98) edge (linear_13_99)
  (reshape_10_98) edge (linear_14_104)
  (reshape_10_98) edge (linear_15_109)
  (view_10_97) edge (reshape_10_98)
  (float_11_96) edge (view_10_97)
  (ge_11_95) edge (float_11_96)
  (batchnorm_13_94) edge (ge_11_95)
  (reshape_9_93) edge (batchnorm_13_94)
  (transpose_5_92) edge (reshape_9_93)
  (flatten_2_91) edge (transpose_5_92)
  (silu_2_90) edge (flatten_2_91)
  (batchnorm_12_89) edge (silu_2_90)
  (conv2d_2_88) edge (batchnorm_12_89)
  (view_9_87) edge (conv2d_2_88)
  (transpose_4_86) edge (view_9_87)
  (add_4_85) edge (transpose_4_86);

\path[flow] (linear_12_84) edge (add_4_85)
  (float_10_83) edge (linear_12_84)
  (ge_10_82) edge (float_10_83)
  (linear_11_81) edge (ge_10_82)
  (view_8_80) edge (linear_11_81)
  (float_9_79) edge (view_8_80)
  (ge_9_78) edge (float_9_79)
  (batchnorm_11_77) edge (ge_9_78)
  (reshape_8_76) edge (batchnorm_11_77)
  (add_3_75) edge (reshape_8_76)
  (linear_10_74) edge (add_3_75)
  (reshape_7_73) edge (linear_10_74)
  (permute_6_72) edge (reshape_7_73)
  (truediv_2_71) edge (permute_6_72)
  (matmul_2_70) edge (truediv_2_71)
  (permute_4_65) edge (matmul_2_70)
  (matmul_2_69) edge (matmul_2_70)
  (transpose_3_68) edge node[elabel,pos=0.93,left]{self} (matmul_2_69)
  (permute_4_67) edge (matmul_2_69)
  (view_6_56) edge (permute_4_65)
  (permute_5_66) edge (transpose_3_68)
  (view_4_64) edge (permute_4_67)
  (float_7_55) edge (view_6_56)
  (view_7_61) edge (permute_5_66)
  (batchnorm_10_63) edge (view_4_64)
  (ge_7_54) edge (float_7_55)
  (float_8_60) edge (view_7_61)
  (batchnorm_8_53) edge (ge_7_54)
  (ge_8_59) edge (float_8_60)
  (batchnorm_9_58) edge (ge_8_59)
  (linear_7_52) edge (batchnorm_8_53)
  (linear_8_57) edge (batchnorm_9_58)
  (linear_9_62) edge (batchnorm_10_63)
  (reshape_6_51) edge (linear_7_52)
  (reshape_6_51) edge (linear_8_57)
  (reshape_6_51) edge (linear_9_62)
  (view_5_50) edge (reshape_6_51)
  (float_6_49) edge (view_5_50)
  (ge_6_48) edge (float_6_49)
  (batchnorm_7_47) edge (ge_6_48)
  (reshape_5_46) edge (batchnorm_7_47)
  (add_2_45) edge (reshape_5_46);

\path[flow] (linear_6_44) edge (add_2_45)
  (float_5_43) edge (linear_6_44)
  (ge_5_42) edge (float_5_43)
  (linear_5_41) edge (ge_5_42)
  (view_4_40) edge (linear_5_41)
  (float_4_39) edge (view_4_40)
  (ge_4_38) edge (float_4_39)
  (batchnorm_6_37) edge (ge_4_38)
  (reshape_4_36) edge (batchnorm_6_37)
  (add_1_35) edge (reshape_4_36)
  (linear_4_34) edge (add_1_35)
  (reshape_3_33) edge (linear_4_34)
  (permute_3_32) edge (reshape_3_33)
  (truediv_1_31) edge (permute_3_32)
  (matmul_1_30) edge (truediv_1_31)
  (permute_1_25) edge (matmul_1_30)
  (matmul_1_29) edge (matmul_1_30)
  (transpose_2_28) edge node[elabel,pos=0.93,left]{self} (matmul_1_29)
  (permute_1_27) edge (matmul_1_29)
  (view_2_16) edge (permute_1_25)
  (permute_2_26) edge (transpose_2_28)
  (view_2_24) edge (permute_1_27)
  (float_2_15) edge (view_2_16)
  (view_3_21) edge (permute_2_26)
  (batchnorm_5_23) edge (view_2_24)
  (ge_2_14) edge (float_2_15)
  (float_3_20) edge (view_3_21)
  (batchnorm_3_13) edge (ge_2_14)
  (ge_3_19) edge (float_3_20)
  (batchnorm_4_18) edge (ge_3_19)
  (linear_1_12) edge (batchnorm_3_13)
  (linear_2_17) edge (batchnorm_4_18)
  (linear_3_22) edge (batchnorm_5_23)
  (reshape_2_11) edge (linear_1_12)
  (reshape_2_11) edge (linear_2_17)
  (reshape_2_11) edge (linear_3_22)
  (view_1_10) edge (reshape_2_11)
  (float_1_9) edge (view_1_10)
  (ge_1_8) edge (float_1_9)
  (batchnorm_2_7) edge (ge_1_8)
  (reshape_1_6) edge (batchnorm_2_7)
  (transpose_1_5) edge (reshape_1_6)
  (flatten_1_4) edge (transpose_1_5)
  (silu_1_3) edge (flatten_1_4)
  (batchnorm_1_2) edge (silu_1_3)
  (conv2d_1_1) edge (batchnorm_1_2)
  (input_1) edge (conv2d_1_1);

\draw[resid] (add_7_162.65) .. controls (292,675) and (297,655) .. (297,620) -- (297,275) .. controls (297,245) and (290,230) .. (add_8_172.-35);
\draw[resid] (add_6_132.25) .. controls (295,1722) and (325,1695) .. (325,1630) -- (325,790) .. controls (325,740) and (320,714) .. (add_7_162.-10);
\draw[resid] (add_5_122.30) .. controls (242,2218) and (249,2195) .. (249,2160) -- (249,1805) .. controls (249,1780) and (245,1768) .. (add_6_132.-40);
\draw[resid] (transpose_5_92.40) .. controls (292,3238) and (304,3215) .. (304,3180) -- (304,2330) .. controls (306,2280) and (285,2247) .. (add_5_122.-5);
\draw[resid] (add_3_75.40) .. controls (290,4095) and (298,4080) .. (298,4050) -- (298,3700) .. controls (300,3662) and (290,3642) .. (add_4_85.-25);
\draw[resid] (add_2_45.55) .. controls (290,5120) and (313,5090) .. (313,5050) -- (313,4200) .. controls (315,4155) and (305,4130) .. (add_3_75.-10);
\draw[resid] (add_1_35.70) .. controls (280,5620) and (288,5600) .. (288,5570) -- (288,5230) .. controls (288,5200) and (282,5186) .. (add_2_45.-50);
\draw[resid] (transpose_1_5.75) .. controls (328,6645) and (332,6625) .. (332,6590) -- (332,5720) .. controls (335,5688) and (322,5664) .. (add_1_35.-10);

\end{tikzpicture}
\end{document}
